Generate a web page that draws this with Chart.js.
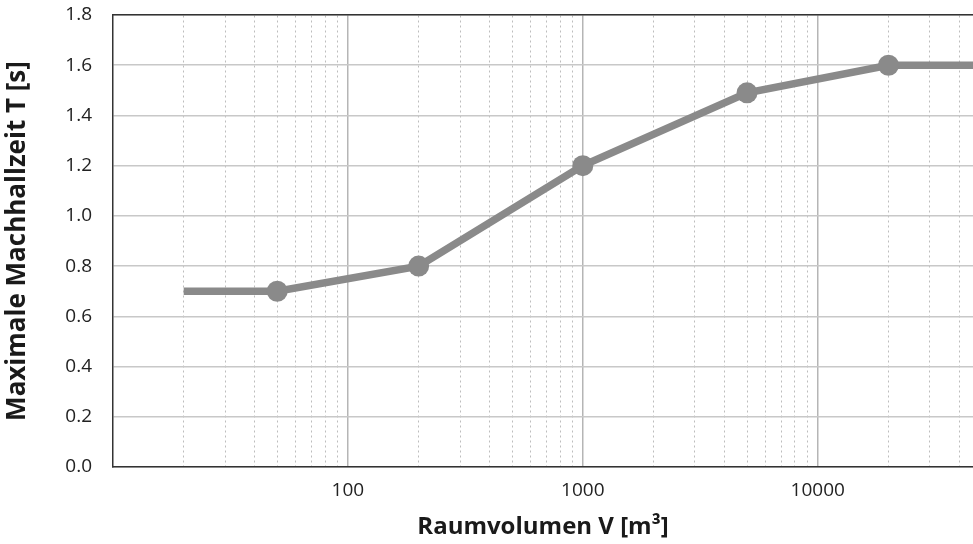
<!DOCTYPE html>
<html>
<head>
<meta charset="utf-8">
<script src="https://cdn.jsdelivr.net/npm/chart.js@4"></script>
<style>
    html, body { margin: 0; padding: 0; background: #fff; }
    #wrap { width: 973px; height: 544px; }
</style>
</head>
<body>
<div id="wrap"><canvas id="chart"></canvas></div>
<script>
// Data
const volumes = [20, 50, 200, 1000, 5000, 20000, 50000];
const reverbTimes = [0.7, 0.7, 0.8, 1.2, 1.49, 1.6, 1.6];
const markerRadius = [0, 10.5, 10.5, 10.5, 10.5, 10.5, 0];
const majorTicks = [100, 1000, 10000];
const minorTicks = [20, 30, 40, 50, 60, 70, 80, 90,
    200, 300, 400, 500, 600, 700, 800, 900,
    2000, 3000, 4000, 5000, 6000, 7000, 8000, 9000,
    20000, 30000, 40000];
const yTicks = [0, 0.2, 0.4, 0.6, 0.8, 1.0, 1.2, 1.4, 1.6, 1.8];

const xMin = 10;
const xMax = 45800;
const fontFamily = '"Open Sans", "Noto Sans", sans-serif';

// drop the automatic label-overflow padding so the plot box sits where the reference has it
function noPad(s) {
    s.paddingTop = 0;
    s.paddingBottom = 0;
    s.paddingLeft = 0;
    s.paddingRight = 0;
}

const ctx = document.getElementById('chart').getContext('2d');
new Chart(ctx, {
    type: 'line',
    data: {
        datasets: [{
            data: volumes.map((v, i) => ({ x: v, y: reverbTimes[i] })),
            borderColor: '#8a8a8a',
            backgroundColor: '#8a8a8a',
            borderWidth: 7.5,
            pointRadius: markerRadius,
            pointHoverRadius: markerRadius,
            pointBorderWidth: 0,
            tension: 0
        }]
    },
    options: {
        responsive: true,
        maintainAspectRatio: false,
        animation: false,
        layout: { padding: 0 },
        plugins: {
            legend: { display: false },
            tooltip: { enabled: false }
        },
        scales: {
            x: {
                type: 'logarithmic',
                position: 'bottom',
                min: xMin,
                max: xMax,
                afterBuildTicks: s => { s.ticks = majorTicks.map(v => ({ value: v, major: true })); },
                afterFit: s => { s.height = 77; noPad(s); },
                ticks: {
                    autoSkip: false,
                    maxRotation: 0,
                    padding: 12,
                    color: '#222',
                    font: { family: fontFamily, size: 19 },
                    callback: v => String(v)
                },
                grid: { color: '#b5b5b5', lineWidth: 1.5, drawTicks: false },
                border: { color: '#333', width: 1.5 },
                title: {
                    display: true,
                    text: 'Raumvolumen V [m³]',
                    color: '#1a1a1a',
                    font: { family: fontFamily, size: 24, weight: 'bold' },
                    padding: { top: 0, bottom: 2 }
                }
            },
            xMinor: {
                type: 'logarithmic',
                position: 'top',
                min: xMin,
                max: xMax,
                afterBuildTicks: s => { s.ticks = minorTicks.map(v => ({ value: v })); },
                afterFit: s => { s.height = 15; noPad(s); },
                ticks: { display: false },
                grid: { color: '#bdbdbd', lineWidth: 1, drawTicks: false },
                border: { display: true, color: '#333', width: 1.5, dash: [2, 3] }
            },
            y: {
                type: 'linear',
                min: 0,
                max: 1.8,
                afterBuildTicks: s => { s.ticks = yTicks.map(v => ({ value: v })); },
                afterFit: s => { s.width = 113; noPad(s); },
                ticks: {
                    padding: 21,
                    color: '#222',
                    font: { family: fontFamily, size: 19 },
                    callback: v => v.toFixed(1)
                },
                grid: { color: '#c8c8c8', lineWidth: 1.5, drawTicks: false },
                border: { color: '#333', width: 1.5 },
                title: {
                    display: true,
                    text: 'Maximale Machhallzeit T [s]',
                    color: '#1a1a1a',
                    font: { family: fontFamily, size: 26, weight: 'bold' },
                    padding: { top: 2, bottom: 0 }
                }
            }
        }
    }
});
</script>
</body>
</html>
